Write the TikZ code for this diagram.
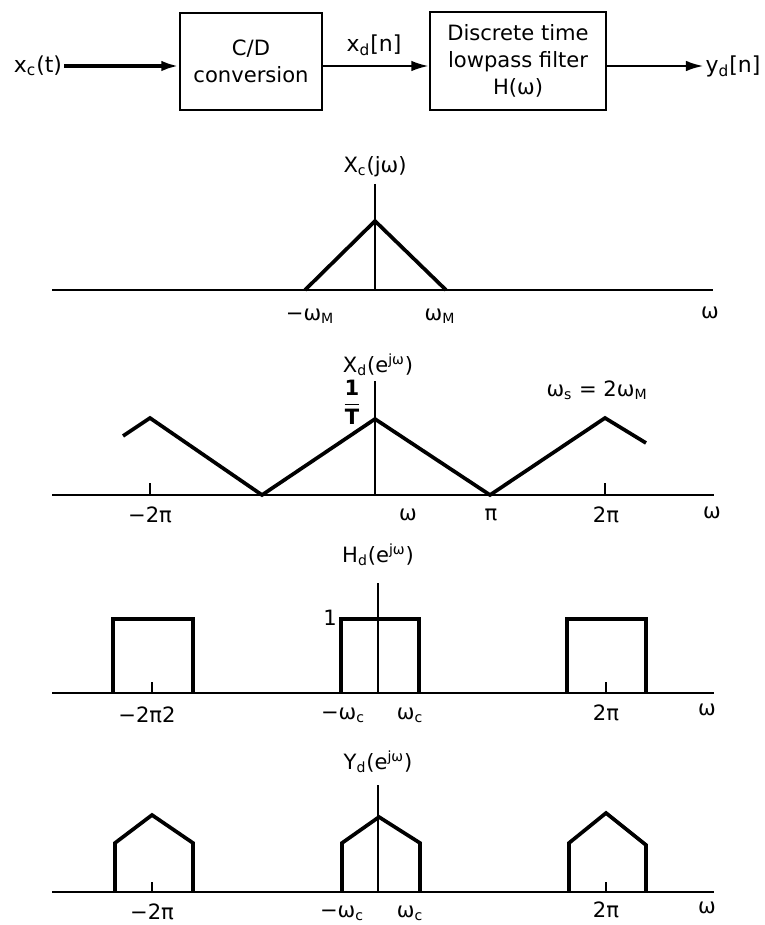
\documentclass[tikz,border=0pt]{standalone}
\usepackage{fontspec}
\setmainfont{DejaVu Sans}
\usepackage{amsmath}
\usetikzlibrary{arrows.meta,positioning}

\newcommand{\sub}[1]{\textsubscript{#1}}
\newcommand{\supr}[1]{\textsuperscript{#1}}

\tikzset{
  block/.style={draw, line width=1.3pt, align=center,
    font=\fontsize{12}{15.4}\selectfont},
  sig/.style={line width=1.4pt, -{Latex[length=10pt,width=6pt]}},
  axisline/.style={line width=1pt},
  vline/.style={line width=0.6pt},
  spec/.style={line width=2.1pt, line join=miter},
  lbl/.style={inner sep=1pt, font=\fontsize{12}{14}\selectfont},
}

\begin{document}
\begin{tikzpicture}[x=0.02cm, y=-0.02cm]
  \useasboundingbox (0,0) rectangle (764,925);

  % Block diagram
  \node[lbl, font=\fontsize{12.5}{14}\selectfont] (xc) at (38,66) {x\sub{c}(t)};
  \node[block, minimum width=2.84cm, minimum height=1.94cm] (cd) at (251,61.5)
    {C/D\\conversion};
  \node[block, minimum width=3.52cm, minimum height=1.96cm] (lp) at (518,61)
    {Discrete time\\lowpass filter\\H(ω)};
  \node[lbl, font=\fontsize{12.5}{14}\selectfont] (yd) at (733,66) {y\sub{d}[n]};
  \node[lbl, font=\fontsize{12.5}{14}\selectfont] (xd) at (374,45) {x\sub{d}[n]};

  \draw[sig, line width=2pt] (xc.east) -- (cd.west |- xc.center);
  \draw[sig] (cd.east |- xc.center) -- (lp.west |- xc.center);
  \draw[sig] (lp.east |- xc.center) -- (yd.west);

  % Plot 1: X_c(j omega)
  \draw[axisline] (52,290) -- (713,290);
  \draw[vline] (375,184) -- (375,290);
  \draw[spec] (305,290) -- (375,221) -- (446,290);
  \node[lbl] at (375,167) {X\sub{c}(jω)};
  \node[lbl] at (310,316) {−ω\sub{M}};
  \node[lbl] at (440,316) {ω\sub{M}};
  \node[lbl] at (710,313) {ω};

  % Plot 2: X_d(e^{j omega})
  \draw[axisline] (52,495) -- (714,495);
  \draw[vline] (375,381) -- (375,495);
  \draw[vline] (150,495) -- (150,483);
  \draw[vline] (605,495) -- (605,483);
  \draw[spec] (123,436) -- (150,418) -- (262,495) -- (375,419) -- (490,495)
    -- (605,418) -- (646,443);
  \node[lbl] at (378,365) {X\sub{d}(e\supr{jω})};
  \node[lbl, inner sep=0pt] at (352,402)
    {$\dfrac{\text{\bfseries 1}}{\text{\bfseries T}}$};
  \node[lbl] at (597,390) {ω\sub{s} = 2ω\sub{M}};
  \node[lbl] at (150,515) {−2π};
  \node[lbl] at (408,515) {ω};
  \node[lbl] at (491,515) {π};
  \node[lbl] at (606,515) {2π};
  \node[lbl] at (712,513) {ω};

  % Plot 3: H_d(e^{j omega})
  \draw[axisline] (52,693) -- (714,693);
  \draw[vline] (378,583) -- (378,693);
  \draw[vline] (152,693) -- (152,682);
  \draw[vline] (606,693) -- (606,682);
  \draw[spec, line width=2.4pt] (113,693) -- (113,619) -- (193,619) -- (193,693);
  \draw[spec, line width=2.4pt] (341,693) -- (341,619) -- (419,619) -- (419,693);
  \draw[spec, line width=2.4pt] (567,693) -- (567,619) -- (646,619) -- (646,693);
  \node[lbl] at (378,555) {H\sub{d}(e\supr{jω})};
  \node[lbl] at (330,618) {1};
  \node[lbl] at (147,715) {−2π2};
  \node[lbl] at (343,715) {−ω\sub{c}};
  \node[lbl] at (410,715) {ω\sub{c}};
  \node[lbl] at (606,713) {2π};
  \node[lbl] at (707,710) {ω};

  % Plot 4: Y_d(e^{j omega})
  \draw[axisline] (52,892) -- (714,892);
  \draw[vline] (378,785) -- (378,892);
  \draw[vline] (152,892) -- (152,882);
  \draw[vline] (606,892) -- (606,882);
  \draw[spec] (115,892) -- (115,843) -- (152,815) -- (193,843) -- (193,892);
  \draw[spec] (342,892) -- (342,843) -- (379,817) -- (420,843) -- (420,892);
  \draw[spec] (569,892) -- (569,843) -- (606,813) -- (646,845) -- (646,892);
  \node[lbl] at (378,762) {Y\sub{d}(e\supr{jω})};
  \node[lbl] at (152,912) {−2π};
  \node[lbl] at (342,913) {−ω\sub{c}};
  \node[lbl] at (410,913) {ω\sub{c}};
  \node[lbl] at (606,910) {2π};
  \node[lbl] at (707,908) {ω};
\end{tikzpicture}
\end{document}
